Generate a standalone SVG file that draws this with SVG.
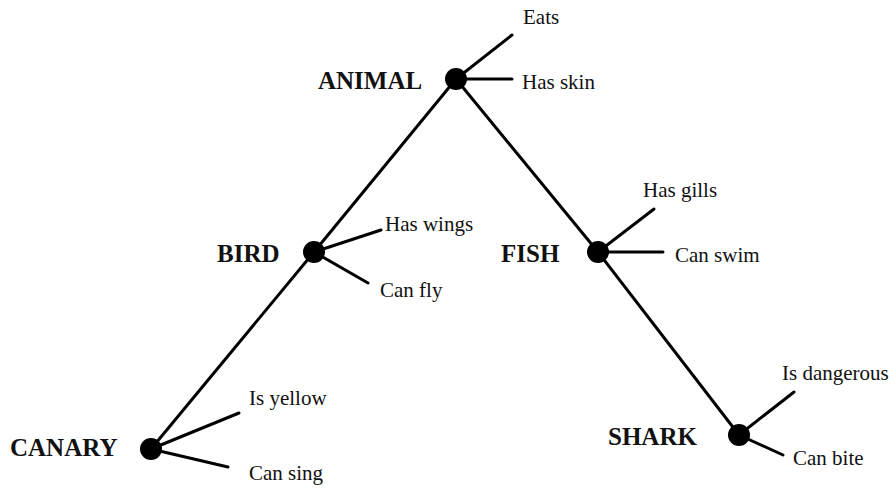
<svg xmlns="http://www.w3.org/2000/svg" width="896" height="496" viewBox="0 0 896 496">
<style>
.l{stroke:#000;stroke-width:3;stroke-linecap:round;fill:none}
.d{fill:#000}
.n{font-family:"Liberation Serif","Times New Roman",serif;font-weight:bold;font-size:25px;fill:#111}
.p{font-family:"Liberation Serif","Times New Roman",serif;font-size:21px;fill:#111}
</style>
<rect width="896" height="496" fill="#fff"/>
<g id="connectors">
<line class="l" x1="456" y1="79" x2="314" y2="252"/>
<line class="l" x1="456" y1="79" x2="598" y2="252"/>
<line class="l" x1="314" y1="252" x2="151" y2="449"/>
<line class="l" x1="598" y1="252" x2="739" y2="435"/>
<line class="l" x1="456" y1="79" x2="512" y2="35"/>
<line class="l" x1="456" y1="79" x2="512" y2="79"/>
<line class="l" x1="314" y1="252" x2="381" y2="230"/>
<line class="l" x1="314" y1="252" x2="368" y2="283"/>
<line class="l" x1="598" y1="252" x2="654" y2="209"/>
<line class="l" x1="598" y1="252" x2="663" y2="252"/>
<line class="l" x1="151" y1="449" x2="239" y2="413"/>
<line class="l" x1="151" y1="449" x2="228" y2="467"/>
<line class="l" x1="739" y1="435" x2="794" y2="392"/>
<line class="l" x1="739" y1="435" x2="783" y2="455"/>
</g>
<g id="animal">
<circle class="d" cx="456" cy="79" r="11"/>
<text class="n" x="318" y="89">ANIMAL</text>
<text class="p" x="523" y="24">Eats</text>
<text class="p" x="522" y="89">Has skin</text>
</g>
<g id="bird">
<circle class="d" cx="314" cy="252" r="11"/>
<text class="n" x="217" y="262">BIRD</text>
<text class="p" x="385" y="231">Has wings</text>
<text class="p" x="380" y="297">Can fly</text>
</g>
<g id="fish">
<circle class="d" cx="598" cy="252" r="11"/>
<text class="n" x="501" y="262">FISH</text>
<text class="p" x="643" y="197">Has gills</text>
<text class="p" x="675" y="262">Can swim</text>
</g>
<g id="canary">
<circle class="d" cx="151" cy="449" r="11"/>
<text class="n" x="10" y="456">CANARY</text>
<text class="p" x="249" y="405">Is yellow</text>
<text class="p" x="249" y="480">Can sing</text>
</g>
<g id="shark">
<circle class="d" cx="739" cy="435" r="11"/>
<text class="n" x="608" y="445">SHARK</text>
<text class="p" x="782" y="380">Is dangerous</text>
<text class="p" x="793" y="465">Can bite</text>
</g>
</svg>
